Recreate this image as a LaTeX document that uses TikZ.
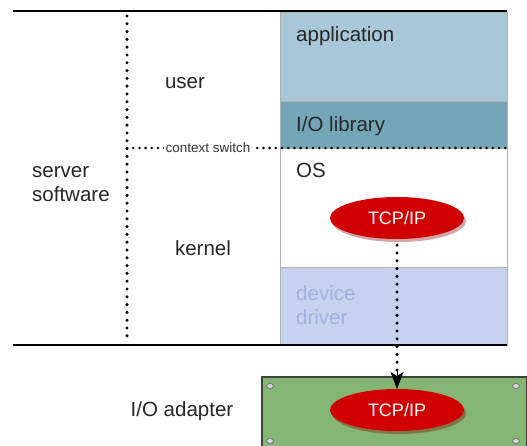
\documentclass[tikz,border=0pt]{standalone}
\usepackage{fontspec}
\setmainfont{Liberation Sans}
\usepackage{tikz}
\usetikzlibrary{shapes.geometric,shadows,arrows.meta}
\definecolor{appblue}{HTML}{A8C8D9}
\definecolor{libblue}{HTML}{74A6B8}
\definecolor{drvblue}{HTML}{C8D2EE}
\definecolor{drvtext}{HTML}{A2B2E2}
\definecolor{boardgreen}{HTML}{84B574}
\definecolor{tcpred}{HTML}{D00000}
\tikzstyle{layer}=[shape=rectangle,draw=black!30,inner sep=0pt,outer sep=0pt,minimum width=227pt]
\tikzstyle{lbl}=[font=\fontsize{20.5}{24}\selectfont,text=black!85,inner sep=0pt]
\tikzstyle{proto}=[shape=ellipse,fill=tcpred,text=white,minimum width=134pt,minimum height=42pt,inner sep=0pt,font=\fontsize{18}{22}\selectfont,drop shadow={opacity=0.35,fill=tcpred!60!black,shadow xshift=2pt,shadow yshift=-3pt}]
\tikzstyle{dotline}=[line width=3.4pt,line cap=round,dash pattern=on 0pt off 7.8pt]

\begin{document}
\begin{tikzpicture}[x=1pt,y=-1pt]
		\useasboundingbox (0,0) rectangle (527,446);

		% layers
		\node[layer,fill=appblue,minimum height=89pt] (app) at (393.5,56.5) {};
		\node[layer,fill=libblue,minimum height=47pt] (lib) at (393.5,124.5) {};
		\node[layer,fill=white,minimum height=119pt] (os) at (393.5,207.5) {};
		\node[layer,fill=drvblue,minimum height=78pt] (drv) at (393.5,306.5) {};

		\node[lbl,anchor=west] (applbl) at (296,36) {application};
		\node[lbl,anchor=west] (liblbl) at (296,126) {I/O library};
		\node[lbl,anchor=west] (oslbl) at (296,170) {OS};
		\node[lbl,anchor=west,text=drvtext,align=left] (drvlbl) at (296,305) {device\\driver};

		% levels
		\node[lbl] (user) at (185,83) {user};
		\node[lbl] (kernel) at (203,248) {kernel};
		\node[lbl,anchor=west,align=left] (server) at (32,184) {server\\software};
		\node[lbl] (adapterlbl) at (182,411) {I/O adapter};

		% borders
		\coordinate (tl) at (13,11);
		\coordinate (tr) at (507,11);
		\coordinate (bl) at (13,345);
		\coordinate (br) at (507,345);
		\coordinate (vtop) at (127,16);
		\coordinate (vbot) at (127,341);
		\draw[line width=2pt] (tl) -- (tr);
		\draw[line width=2pt] (bl) -- (br);
		\draw[dotline] (vtop) -- (vbot);

		% context switch
		\coordinate (csl) at (127,148);
		\coordinate (csr) at (507,148);
		\draw[line width=2.8pt,line cap=round,dash pattern=on 0pt off 6.2pt] (csl) -- (csr);
		\node[fill=white,inner sep=2pt,font=\fontsize{13.5}{15}\selectfont,text=black!80] (cs) at (208,148) {context switch};

		% adapter board
		\node[shape=rectangle,draw=black!75,line width=1.2pt,fill=boardgreen,inner sep=0pt,minimum width=265pt,minimum height=76pt] (board) at (394.5,415) {};
		\foreach \x/\y in {270/386,516/386,270/441,516/441}
			\draw[black!55,fill=black!15,line width=0.8pt] (\x,\y) ellipse (3.5pt and 2.5pt);

		% protocol stacks
		\node[proto] (tcp1) at (397,218) {TCP/IP};
		\node[proto] (tcp2) at (397,410) {TCP/IP};
		\coordinate (tip) at (397,389);
		\coordinate (bend) at (397,370);
		\draw[dotline] (tcp1.south) ++(0,6) -- (bend);
		\draw[-{Stealth[length=17pt,width=13pt,inset=4pt]},line width=1pt] (bend) -- (tip);
		\end{tikzpicture}
\end{document}
